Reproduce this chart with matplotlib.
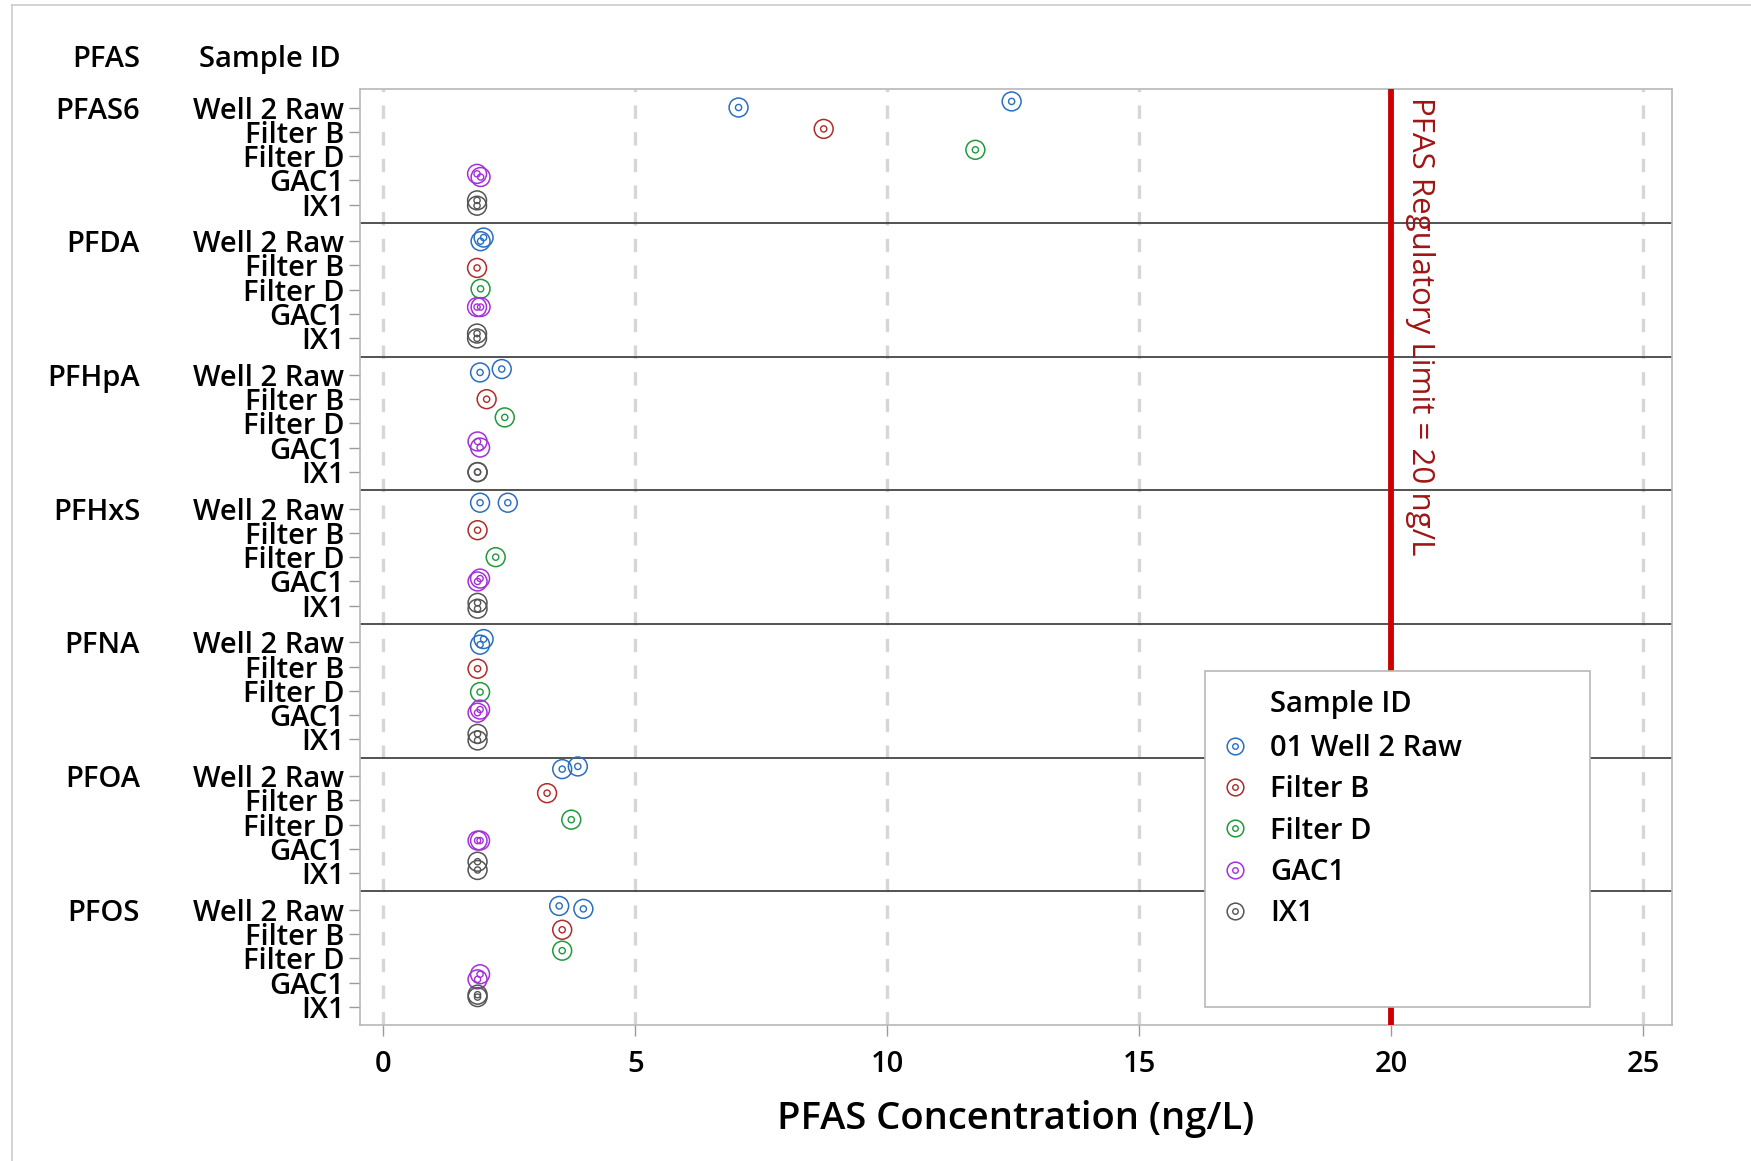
import matplotlib
matplotlib.use("Agg")
import matplotlib.pyplot as plt
from matplotlib.lines import Line2D
from matplotlib.patches import Rectangle
from matplotlib.legend_handler import HandlerTuple
from matplotlib.transforms import blended_transform_factory

plt.rcParams['font.family'] = ['Open Sans', 'DejaVu Sans']
plt.rcParams['font.weight'] = 'semibold'

# PFAS compounds (top to bottom) and sample IDs within each block
pfas = ["PFAS6", "PFDA", "PFHpA", "PFHxS", "PFNA", "PFOA", "PFOS"]
samples = ["Well 2 Raw", "Filter B", "Filter D", "GAC1", "IX1"]
legend_names = ["01 Well 2 Raw", "Filter B", "Filter D", "GAC1", "IX1"]

# concentrations (ng/L), one list per sample, one entry per PFAS
well2_raw = [[7.05, 12.47], [1.93, 1.99], [1.92, 2.35], [1.92, 2.47], [1.92, 1.99], [3.55, 3.86], [3.49, 3.97]]
filter_b = [[8.74], [1.86], [2.05], [1.87], [1.87], [3.25], [3.55]]
filter_d = [[11.75], [1.93], [2.41], [2.23], [1.92], [3.73], [3.55]]
gac1 = [[1.86, 1.93], [1.86, 1.93], [1.87, 1.92], [1.87, 1.92], [1.87, 1.92], [1.87, 1.92], [1.92, 1.87]]
ix1 = [[1.86, 1.86], [1.86, 1.86], [1.87, 1.87], [1.87, 1.87], [1.87, 1.87], [1.87, 1.87], [1.87, 1.87]]

# vertical jitter of each point inside its row (row units, negative = up)
jit_well2_raw = [[0, -0.25], [0, -0.15], [-0.1, -0.24], [-0.24, -0.24], [0.1, -0.13], [-0.28, -0.39], [-0.15, -0.03]]
jit_filter_b = [[-0.12], [0.1], [0], [-0.11], [0.09], [-0.29], [-0.17]]
jit_filter_d = [[-0.26], [-0.04], [-0.25], [0], [0.05], [-0.2], [-0.31]]
jit_gac1 = [[-0.27, -0.14], [-0.29, -0.29], [-0.26, -0.01], [0, -0.12], [-0.1, -0.23], [-0.34, -0.34], [-0.34, -0.13]]
jit_ix1 = [[-0.18, 0.04], [-0.2, 0], [0, 0], [-0.12, 0.12], [-0.23, 0.04], [-0.47, -0.13], [-0.5, -0.4]]

limit = 20
xticks = [0, 5, 10, 15, 20, 25]

series = [well2_raw, filter_b, filter_d, gac1, ix1]
jitters = [jit_well2_raw, jit_filter_b, jit_filter_d, jit_gac1, jit_ix1]
colors = ["#2a6ebf", "#b02a2a", "#1f9a3a", "#a431d8", "#555555"]

block = 5.5
pad = 0.75

fig = plt.figure(figsize=(17.51, 11.61), dpi=100)
ax = fig.add_axes([0.2054, 0.1171, 0.7493, 0.806])

ypos = []
ylab = []
for g in range(len(pfas)):
    for r, s in enumerate(samples):
        ypos.append(g * block + pad + r)
        ylab.append(s)

for si in range(len(samples)):
    for g in range(len(pfas)):
        row = g * block + pad + si
        xs = series[si][g]
        ys = [row + j for j in jitters[si][g]]
        ax.scatter(xs, ys, s=185, marker='o', facecolors='none',
                   edgecolors=colors[si], linewidths=1.1, zorder=4)
        ax.scatter(xs, ys, s=20, marker='o', facecolors='none',
                   edgecolors=colors[si], linewidths=1.0, zorder=4)

# dashed vertical grid
for xv in xticks:
    ax.axvline(xv, color="#d6d6d6", lw=2.4, dashes=(4, 4), zorder=1)

# block separators
for g in range(1, len(pfas)):
    ax.axhline(g * block, color="#444444", lw=1.3, zorder=2)

# regulatory limit
ax.axvline(limit, color="#cc0000", lw=4.2, zorder=3)
ax.text(limit + 0.58, 0.33, "PFAS Regulatory Limit = 20 ng/L", rotation=-90,
        ha='center', va='top', color="#9e1515", fontsize=22.5,
        fontweight='normal', zorder=3)

ax.set_xlim(-0.47, 25.57)
ax.set_ylim(len(pfas) * block, 0)
ax.set_xticks(xticks)
ax.set_yticks(ypos)
ax.set_yticklabels(ylab)
ax.tick_params(axis='y', length=8, width=1, color="#9a9a9a", pad=3, labelsize=21)
ax.tick_params(axis='x', length=8, width=1, color="#9a9a9a", pad=10, labelsize=21)
for sp in ax.spines.values():
    sp.set_color("#b8b8b8")
    sp.set_linewidth(1.2)

ax.set_xlabel("PFAS Concentration (ng/L)", fontsize=27.5, fontweight='semibold',
              labelpad=15)

# PFAS names beside the first row of each block
tr = blended_transform_factory(ax.transAxes, ax.transData)
for g, name in enumerate(pfas):
    ax.text(-0.1674, g * block + pad, name, transform=tr, ha='right',
            va='center_baseline', fontsize=21)

ax.text(-0.1674, 1.036, "PFAS", transform=ax.transAxes, ha='right',
        va='center_baseline', fontsize=21)
ax.text(-0.0145, 1.036, "Sample ID", transform=ax.transAxes, ha='right',
        va='center_baseline', fontsize=21)

# legend with a fixed-size box
box = Rectangle((0.644, 0.019), 0.294, 0.359, transform=ax.transAxes,
                facecolor='white', edgecolor="#b8b8b8", lw=1.2, zorder=5)
ax.add_patch(box)
ax.text(0.694, 0.346, "Sample ID", transform=ax.transAxes, ha='left',
        va='center_baseline', fontsize=21, zorder=7)
handles = []
for c in colors:
    outer = Line2D([], [], ls='none', marker='o', ms=12, mfc='none', mec=c, mew=1.1)
    inner = Line2D([], [], ls='none', marker='o', ms=4, mfc='none', mec=c, mew=1.0)
    handles.append((outer, inner))
leg = ax.legend(handles, legend_names, loc='upper left',
                bbox_to_anchor=(0.634, 0.339), frameon=False, fontsize=21,
                handler_map={tuple: HandlerTuple(ndivide=1)},
                labelspacing=0.42, handlelength=1.2, handletextpad=0.6)
leg.set_zorder(6)

# page border lines
fig.add_artist(Line2D([0.0069, 0.0069], [0, 0.9957], color="#cccccc", lw=1.2))
fig.add_artist(Line2D([0.0069, 1], [0.9957, 0.9957], color="#cccccc", lw=1.2))

fig.savefig("out.png", dpi=100, facecolor='white')
